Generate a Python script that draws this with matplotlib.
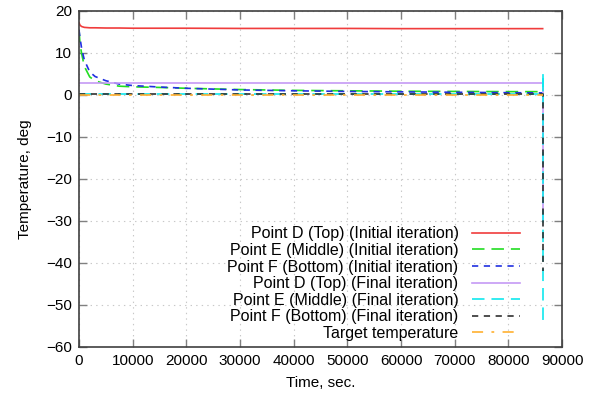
import matplotlib
matplotlib.use("Agg")
import matplotlib.pyplot as plt

plt.rcParams['font.family'] = ['Liberation Sans', 'DejaVu Sans']
plt.rcParams['lines.scale_dashes'] = False

# time axis (seconds)
t_init = [0, 200, 500, 1000, 2000, 3000, 5000, 7500, 10000, 15000, 20000,
          30000, 40000, 50000, 60000, 70000, 80000, 86400]
d_init = [17.2, 16.6, 16.3, 16.1, 16.0, 16.0, 15.95, 15.95, 15.9, 15.9, 15.9,
          15.85, 15.85, 15.85, 15.8, 15.8, 15.8, 15.8]
e_init = [15.5, 12.0, 9.8, 6.8, 4.3, 3.4, 2.6, 2.1, 1.95, 1.8, 1.6,
          1.3, 1.1, 1.0, 0.9, 0.85, 0.8, 0.8]
f_init = [15.5, 13.5, 11.0, 8.3, 5.5, 4.4, 3.4, 2.6, 2.25, 1.9, 1.6,
          1.2, 1.0, 0.85, 0.75, 0.65, 0.55, 0.5]

t_final = [0, 200, 1000, 10000, 40000, 80000, 86400, 86400, 86400]
d_final = [2.8, 2.8, 2.8, 2.8, 2.8, 2.8, 2.8, 2.8, -30.0]
e_final = [0.2, 0.2, 0.2, 0.2, 0.2, 0.2, 0.2, 5.2, -54.5]
f_final = [0.3, 0.3, 0.3, 0.3, 0.3, 0.3, 0.3, 0.3, -42.0]

t_target = [0, 86400]
target = [0, 0]

labels = ["Point D (Top) (Initial iteration)",
          "Point E (Middle) (Initial iteration)",
          "Point F (Bottom) (Initial iteration)",
          "Point D (Top) (Final iteration)",
          "Point E (Middle) (Final iteration)",
          "Point F (Bottom) (Final iteration)",
          "Target temperature"]

xticks = [0, 10000, 20000, 30000, 40000, 50000, 60000, 70000, 80000, 90000]
yticks = [-60, -50, -40, -30, -20, -10, 0, 10, 20]

fig = plt.figure(figsize=(5.98, 4.01), dpi=100)
ax = fig.add_axes([79/598, 1-347/401, (562-79)/598, (347-11)/401])

lw = 1.2
long_dash = (0, (9, 5))
short_dash = (0, (4.5, 4))
dash_dot = (0, (8, 6, 2, 6))

ax.plot(t_init, d_init, color='#f03c3c', lw=lw, ls='-', label=labels[0])
ax.plot(t_init, e_init, color='#22dd22', lw=lw, ls=long_dash, label=labels[1])
ax.plot(t_init, f_init, color='#2030e0', lw=lw, ls=short_dash, label=labels[2])
ax.plot(t_final, d_final, color='#c59af5', lw=lw, ls='-', label=labels[3])
ax.plot(t_final, e_final, color='#10e8ee', lw=lw, ls=long_dash, label=labels[4])
ax.plot(t_final, f_final, color='#303030', lw=lw, ls=short_dash, label=labels[5])
ax.plot(t_target, target, color='#ffb030', lw=lw, ls=dash_dot, label=labels[6])

ax.set_xlim(0, 90000)
ax.set_ylim(-60, 20)
ax.set_xticks(xticks)
ax.set_yticks(yticks)
ax.tick_params(direction='in', length=6, width=1, top=True, right=True,
               labelsize=11, color='#808080', pad=5)
ax.grid(True, ls=(0, (1, 3)), color='#c8c8c8', lw=0.8)
for s in ax.spines.values():
    s.set_color('#404040')
    s.set_linewidth(1.2)

ax.set_xlabel("Time, sec.", fontsize=11, labelpad=6)
ax.set_ylabel("Temperature, deg", fontsize=11, labelpad=10)

ax.legend(loc='lower right', bbox_to_anchor=(520/598, 60/401), bbox_transform=fig.transFigure,
          frameon=False, markerfirst=False, fontsize=11.5, handlelength=3.0,
          handletextpad=0.85, labelspacing=0.1, borderpad=0, borderaxespad=0)

fig.savefig("out.png", dpi=100)
